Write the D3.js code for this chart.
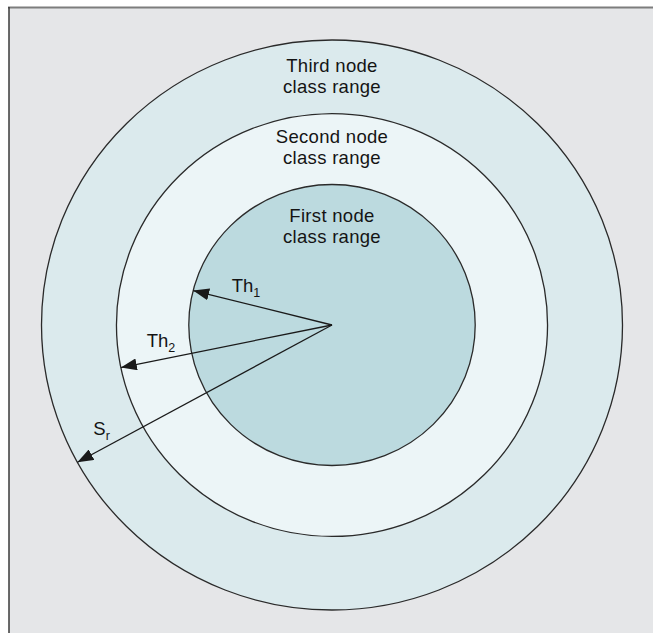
<!DOCTYPE html>
<html>
<head>
<meta charset="utf-8">
<script src="https://cdn.jsdelivr.net/npm/d3@7"></script>
<style>
  html, body { margin: 0; padding: 0; background: #ffffff; }
  svg { display: block; }
</style>
</head>
<body>
<svg id="chart" width="653" height="633"></svg>
<script>
// ---- data ----
const rangeNames = [["Third node", "class range"], ["Second node", "class range"], ["First node", "class range"]];
const rangeRadii = [1.0, 0.742, 0.493];           // relative radius (Sr = 1)
const rangeColors = ["#dbeaed", "#ecf5f7", "#bcdadf"];
const arrowLabels = [["Th", "1"], ["Th", "2"], ["S", "r"]];
const arrowRadii = [0.493, 0.742, 1.0];
const arrowAngles = [14.2, -11.6, -28.8];          // degrees above the leftward horizontal

// ---- layout ----
const W = 653, H = 633;
const cx = 332, cy = 325;
const rx = d3.scaleLinear().domain([0, 1]).range([0, 290.5]);
const ry = d3.scaleLinear().domain([0, 1]).range([0, 285]);
const labelY0 = [71.5, 143, 221.5];
const lineGap = 21;
const labelFrac = [0.62, 0.81, 0.905];
const labelLift = [12, 12, 14];
const FONT = "'Liberation Sans', Arial, sans-serif";

const svg = d3.select("#chart");

// frame
svg.append("rect").attr("x", 9).attr("y", 8).attr("width", W - 9).attr("height", H - 8).attr("fill", "#e5e6e8");
svg.append("line").attr("x1", 8).attr("x2", W).attr("y1", 7.5).attr("y2", 7.5)
  .attr("stroke", "#7d7d7d").attr("stroke-width", 2);
svg.append("line").attr("x1", 9).attr("x2", 9).attr("y1", 7).attr("y2", H)
  .attr("stroke-width", 1.5).attr("stroke", "#3a3a3a");

// rings
svg.append("g").selectAll("ellipse").data(rangeRadii).join("ellipse")
  .attr("cx", cx).attr("cy", cy)
  .attr("rx", d => rx(d)).attr("ry", d => ry(d))
  .attr("fill", (d, i) => rangeColors[i])
  .attr("stroke", "#2a2a2a").attr("stroke-width", 1.3);

// range labels
const lg = svg.append("g").attr("font-family", FONT).attr("font-size", 18.5)
  .attr("letter-spacing", 0.3)
  .attr("fill", "#141414").attr("text-anchor", "middle");
rangeNames.forEach((lines, i) => {
  const t = lg.append("text").attr("x", cx).attr("y", labelY0[i]);
  lines.forEach((s, j) => {
    t.append("tspan").attr("x", cx).attr("dy", j === 0 ? 0 : lineGap).text(s);
  });
});

// arrowhead marker
svg.append("defs").append("marker")
  .attr("id", "ah").attr("viewBox", "0 0 16 12")
  .attr("refX", 16).attr("refY", 6)
  .attr("markerWidth", 16).attr("markerHeight", 12)
  .attr("markerUnits", "userSpaceOnUse")
  .attr("orient", "auto")
  .append("path").attr("d", "M0,0 L16,6 L0,12 Z").attr("fill", "#1a1a1a");

const tip = (r, a) => {
  const t = a * Math.PI / 180;
  return [cx - rx(r) * Math.cos(t), cy - ry(r) * Math.sin(t)];
};

const ag = svg.append("g");
arrowRadii.forEach((r, i) => {
  const [x2, y2] = tip(r, arrowAngles[i]);
  ag.append("line").attr("x1", cx).attr("y1", cy).attr("x2", x2).attr("y2", y2)
    .attr("stroke", "#1a1a1a").attr("stroke-width", 1.3)
    .attr("marker-end", "url(#ah)");
  const f = labelFrac[i];
  const lx = cx + (x2 - cx) * f, ly = cy + (y2 - cy) * f - labelLift[i];
  const t = ag.append("text").attr("x", lx).attr("y", ly)
    .attr("font-family", FONT).attr("font-size", 18.5)
    .attr("fill", "#141414").attr("text-anchor", "middle");
  t.append("tspan").text(arrowLabels[i][0]);
  t.append("tspan").attr("font-size", 12.5).attr("dy", 5).text(arrowLabels[i][1]);
});
</script>
</body>
</html>
